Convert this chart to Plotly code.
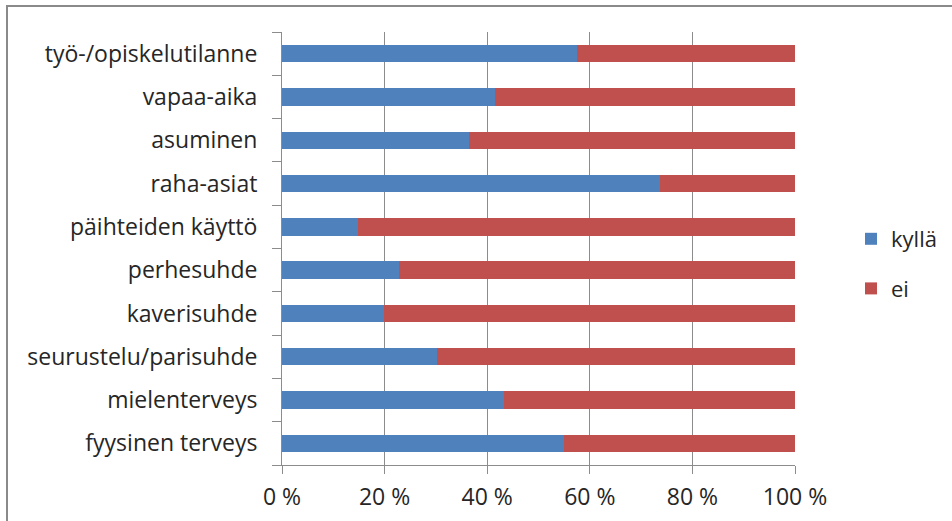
import plotly.graph_objects as go

categories = ["työ-/opiskelutilanne", "vapaa-aika", "asuminen", "raha-asiat",
              "päihteiden käyttö", "perhesuhde", "kaverisuhde",
              "seurustelu/parisuhde", "mielenterveys", "fyysinen terveys"]
kylla = [57.5, 41.5, 36.5, 73.7, 14.8, 22.9, 19.8, 30.3, 43.3, 55.0]
ei = [round(100 - v, 1) for v in kylla]
tick_vals = [0, 20, 40, 60, 80, 100]
tick_text = ["0 %", "20 %", "40 %", "60 %", "80 %", "100 %"]

FONT = "Open Sans"
FS = 23
W, H = 952, 521
L, R, T, B = 282, 157, 32, 56
pw, ph = W - L - R, H - T - B

fig = go.Figure()
fig.add_trace(go.Bar(y=categories, x=kylla, name="kyllä", orientation="h",
                     marker=dict(color="#4F81BD", line=dict(width=0)),
                     legendgroup="a"))
fig.add_trace(go.Bar(y=categories, x=ei, name="ei", orientation="h",
                     marker=dict(color="#C0504D", line=dict(width=0)),
                     legendgroup="b"))

fig.update_layout(
    width=W, height=H,
    margin=dict(l=L, r=R, t=T, b=B, autoexpand=False),
    barmode="stack", bargap=0.6,
    plot_bgcolor="white", paper_bgcolor="white",
    font=dict(family=FONT, size=FS, color="#262626"),
    showlegend=True,
    legend=dict(x=(851 - L) / pw, y=1 - (264 - T) / ph, xanchor="left", yanchor="middle",
                traceorder="grouped", tracegroupgap=18,
                font=dict(family=FONT, size=22, color="#262626"),
                bgcolor="rgba(0,0,0,0)"),
    xaxis=dict(range=[0, 100], tickvals=tick_vals, ticktext=tick_text,
               showgrid=True, gridcolor="#8c8c8c", gridwidth=1,
               showline=True, linecolor="#8c8c8c", linewidth=1,
               ticks="outside", ticklen=8, tickcolor="#8c8c8c",
               ticklabelstandoff=3,
               zeroline=False, fixedrange=True),
    yaxis=dict(categoryorder="array", categoryarray=categories[::-1],
               showline=True, linecolor="#8c8c8c", linewidth=1,
               ticks="outside", ticklen=9, tickcolor="#8c8c8c",
               tickson="boundaries", showgrid=False,
               ticklabelstandoff=19, fixedrange=True),
    shapes=[dict(type="rect", xref="paper", yref="paper",
                 x0=(7 - L) / pw, x1=(W + 20 - L) / pw,
                 y0=-(B + 20) / ph, y1=1 + (T - 6) / ph,
                 line=dict(color="#8a8a8a", width=2), fillcolor="rgba(0,0,0,0)",
                 layer="below")],
)

fig.write_html("out.html")
